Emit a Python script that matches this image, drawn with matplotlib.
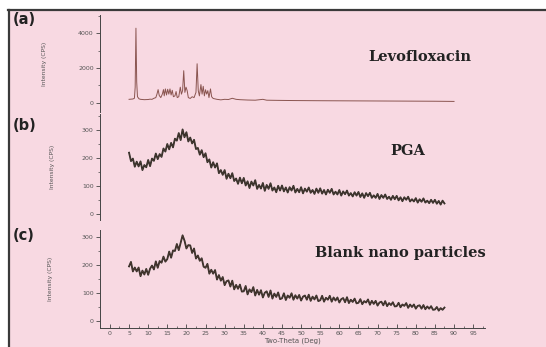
import matplotlib
matplotlib.use("Agg")
import matplotlib.pyplot as plt
from matplotlib.patches import Rectangle
from matplotlib.lines import Line2D
from matplotlib.ticker import MultipleLocator
import numpy as np

# Levofloxacin (crystalline peaks)
levo_theta = [5.0, 5.5, 6.0, 6.4, 6.6, 6.8, 7.0, 7.2, 7.6, 8.0, 9.0, 10.0, 10.5, 11.0,
              11.5, 12.0, 12.3, 12.6, 12.9, 13.3, 13.7, 14.0, 14.2, 14.5, 14.8, 15.1,
              15.4, 15.7, 16.0, 16.3, 16.6, 17.0, 17.3, 17.6, 18.0, 18.4, 18.7, 19.0,
              19.3, 19.6, 19.9, 20.2, 20.5, 21.0, 21.5, 22.0, 22.5, 22.8, 23.1, 23.4,
              23.8, 24.1, 24.4, 24.7, 25.0, 25.3, 25.6, 25.9, 26.3, 26.6, 27.0, 28.0,
              29.0, 30.0, 31.0, 32.0, 33.0, 34.0, 36.0, 38.0, 40.0, 41.0, 44.0, 48.0,
              55.0, 65.0, 75.0, 85.0, 90.0]
levo_int = [200, 210, 220, 260, 900, 4300, 1200, 350, 230, 200, 180, 190, 210, 200,
            260, 300, 500, 760, 420, 300, 500, 760, 400, 800, 450, 780,
            500, 800, 450, 720, 350, 400, 650, 300, 350, 900, 500, 700,
            1850, 600, 900, 700, 300, 250, 350, 300, 600, 2250, 700, 400,
            1050, 500, 950, 400, 750, 500, 700, 300, 800, 350, 250, 200,
            170, 200, 190, 260, 200, 180, 160, 150, 200, 150, 140, 130,
            120, 110, 100, 90, 80]

# PGA (amorphous), every 0.5 deg from 5.0
pga_int = [219, 189, 198, 169, 187, 170, 188, 157, 175, 167, 193, 171, 198, 190, 216, 196,
           214, 204, 234, 223, 250, 231, 254, 238, 269, 262, 289, 264, 302, 274, 292, 259,
           273, 252, 265, 232, 236, 212, 228, 203, 217, 185, 195, 166, 185, 166, 181, 146,
           157, 140, 157, 126, 144, 128, 146, 118, 127, 108, 130, 110, 129, 102, 117, 93,
           116, 102, 121, 90, 104, 91, 111, 83, 104, 90, 110, 84, 95, 78, 101, 84,
           102, 81, 95, 77, 96, 84, 101, 77, 90, 78, 96, 74, 91, 80, 95, 76,
           86, 72, 91, 76, 92, 73, 86, 70, 87, 76, 90, 70, 80, 70, 86, 66,
           81, 71, 84, 66, 75, 63, 78, 66, 79, 61, 74, 58, 75, 64, 76, 58,
           67, 58, 72, 54, 68, 58, 70, 54, 62, 51, 65, 53, 65, 49, 60, 46,
           60, 51, 62, 45, 53, 45, 57, 41, 53, 44, 56, 41, 48, 39, 51, 40,
           51, 37, 47, 34, 48, 38]

# Blank nano particles, every 0.5 deg from 5.0
blank_int = [195, 211, 177, 191, 177, 191, 160, 180, 166, 186, 165, 187, 198, 184, 213, 190,
             214, 208, 230, 212, 221, 248, 226, 252, 250, 275, 253, 279, 306, 287, 259, 271,
             270, 243, 259, 223, 234, 215, 224, 194, 190, 204, 169, 183, 169, 182, 148, 164,
             144, 157, 128, 142, 145, 123, 144, 113, 129, 115, 130, 105, 106, 125, 95, 113,
             103, 121, 91, 111, 94, 110, 84, 101, 106, 86, 109, 80, 98, 86, 102, 78,
             81, 99, 75, 91, 83, 99, 76, 92, 80, 93, 73, 87, 91, 76, 94, 72,
             87, 77, 91, 71, 74, 90, 69, 83, 76, 90, 69, 84, 73, 84, 66, 78,
             82, 67, 85, 64, 76, 68, 80, 63, 65, 78, 60, 71, 66, 77, 58, 72,
             61, 72, 55, 66, 69, 56, 71, 53, 64, 57, 67, 52, 53, 65, 49, 59,
             54, 64, 47, 59, 50, 59, 44, 54, 56, 44, 57, 42, 52, 44, 53, 40,
             41, 50, 37, 46, 40, 48]

x_ticks = list(range(0, 100, 5))

W, H = 546, 347
fig = plt.figure(figsize=(W / 100, H / 100), dpi=100)
fig.patch.set_facecolor("white")

# pink background and frame lines
fig.patches.append(Rectangle((9 / W, 0), 1, 1 - 10 / H, transform=fig.transFigure,
                             facecolor="#f8d9e2", edgecolor="none", zorder=-10))
fig.lines.append(Line2D([8 / W, 1], [1 - 10 / H, 1 - 10 / H], transform=fig.transFigure,
                        color="#3a3a3a", lw=1.6))
fig.lines.append(Line2D([9 / W, 9 / W], [0, 1 - 10 / H], transform=fig.transFigure,
                        color="#3a3a3a", lw=1.6))


def px_axes(top, bottom):
    left, right = 100, 485
    return fig.add_axes([left / W, 1 - bottom / H, (right - left) / W, (bottom - top) / H])


tick_col = "#555555"
ax_a = px_axes(15, 112)
ax_b = px_axes(114, 220)
ax_c = px_axes(230, 328)

for ax in (ax_a, ax_b, ax_c):
    ax.set_facecolor("none")
    ax.set_xlim(-2.6, 98.1)
    for s in ("top", "right", "bottom"):
        ax.spines[s].set_visible(False)
    ax.spines["left"].set_color("#444444")
    ax.spines["left"].set_linewidth(0.7)
    ax.tick_params(axis="y", which="major", direction="out", length=3, width=0.6,
                   colors="#444444", labelcolor=tick_col, labelsize=4.5, pad=1.5)
    ax.tick_params(axis="y", which="minor", direction="out", length=1.8, width=0.5,
                   colors="#444444")
    ax.set_ylabel("Intensity (CPS)", fontsize=4.3, color=tick_col)

for ax in (ax_a, ax_b):
    ax.set_xticks([])

# (a)
ax_a.plot(levo_theta, levo_int, color="#8a5550", lw=0.7)
ax_a.set_ylim(-530, 5060)
ax_a.yaxis.set_major_locator(MultipleLocator(2000))
ax_a.yaxis.set_minor_locator(MultipleLocator(1000))
ax_a.yaxis.set_label_coords(-0.138, 0.5)

# (b)
theta_b = 5.0 + 0.5 * np.arange(len(pga_int))
ax_b.plot(theta_b, pga_int, color="#2b2a24", lw=1.3)
ax_b.plot(theta_b, pga_int, color="#6b4a40", lw=0.4, alpha=0.6)
ax_b.set_ylim(-21, 357)
ax_b.yaxis.set_major_locator(MultipleLocator(100))
ax_b.yaxis.set_minor_locator(MultipleLocator(50))
ax_b.yaxis.set_label_coords(-0.117, 0.5)

# (c)
theta_c = 5.0 + 0.5 * np.arange(len(blank_int))
ax_c.plot(theta_c, blank_int, color="#2b2a24", lw=1.3)
ax_c.plot(theta_c, blank_int, color="#7a4a40", lw=0.4, alpha=0.6)
ax_c.set_ylim(-25, 325)
ax_c.yaxis.set_major_locator(MultipleLocator(100))
ax_c.yaxis.set_minor_locator(MultipleLocator(50))
ax_c.yaxis.set_label_coords(-0.122, 0.5)
ax_c.spines["bottom"].set_visible(True)
ax_c.spines["bottom"].set_color("#444444")
ax_c.spines["bottom"].set_linewidth(0.7)
ax_c.set_xticks(x_ticks)
ax_c.xaxis.set_minor_locator(MultipleLocator(2.5))
ax_c.tick_params(axis="x", which="major", direction="in", length=3, width=0.6,
                 colors="#444444", labelcolor=tick_col, labelsize=4.5, pad=2)
ax_c.tick_params(axis="x", which="minor", direction="in", length=1.8, width=0.5,
                 colors="#444444")
ax_c.set_xlabel("Two-Theta (Deg)", fontsize=5, color=tick_col, labelpad=1)


def ftext(x, y, s, **kw):
    fig.text(x / W, 1 - y / H, s, **kw)


for lab, y in (("(a)", 20), ("(b)", 125), ("(c)", 235)):
    ftext(13, y, lab, fontsize=10.5, fontweight="bold", color="#222222",
          family="DejaVu Sans", ha="left", va="center")

for lab, x, y in (("Levofloxacin", 420, 57), ("PGA", 408, 151),
                  ("Blank nano particles", 400, 253)):
    ftext(x, y, lab, fontsize=10.5, fontweight="bold", color="#222222",
          family="DejaVu Serif", ha="center", va="center")

fig.savefig("out.png", dpi=100, facecolor=fig.get_facecolor())
